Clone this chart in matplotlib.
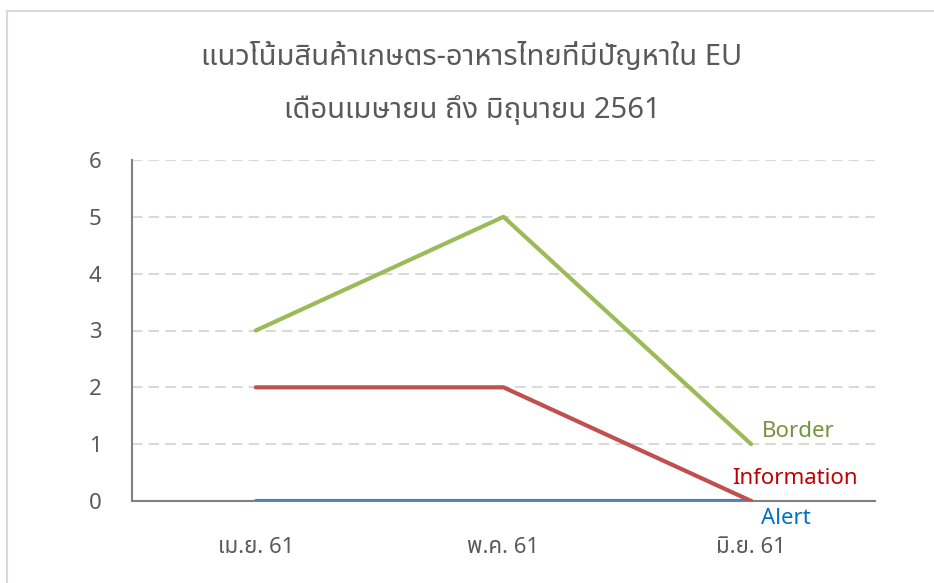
import matplotlib
matplotlib.use("Agg")
import matplotlib.pyplot as plt
from matplotlib.patches import Rectangle

plt.rcParams['font.family'] = ['Noto Sans Thai', 'DejaVu Sans']
plt.rcParams['font.weight'] = 'light'

# ข้อมูล
months = ['เม.ย. 61', 'พ.ค. 61', 'มิ.ย. 61']
border = [3, 5, 1]
information = [2, 2, 0]
alert = [0, 0, 0]
title = 'แนวโน้มสินค้าเกษตร-อาหารไทยที่มีปัญหาใน EU\nเดือนเมษายน ถึง มิถุนายน 2561'

fig = plt.figure(figsize=(9.34, 5.83), dpi=100)
ax = fig.add_axes([132 / 934, 1 - 501 / 583, 743 / 934, 341 / 583])

x = range(len(months))
ax.plot(x, alert, color='#4F81BD', lw=3, solid_capstyle='round', zorder=3)
ax.plot(x, information, color='#C0504D', lw=3, solid_capstyle='round', zorder=3)
ax.plot(x, border, color='#9BBB59', lw=3, solid_capstyle='round', zorder=3)

# ป้ายชื่อชุดข้อมูล
ax.text(2.044, 1.22, 'Border', color='#76923C', fontsize=16, va='center', ha='left')
ax.text(1.925, 0.40, 'Information', color='#C00000', fontsize=16, va='center', ha='left')
ax.text(2.04, -0.30, 'Alert', color='#0070C0', fontsize=16, va='center', ha='left')

ax.set_xlim(-0.5, 2.5)
ax.set_ylim(0, 6)
ax.set_xticks(list(x))
ax.set_xticklabels(months)
ax.set_yticks(range(7))
ax.tick_params(length=0, labelsize=16, labelcolor='#595959')
ax.tick_params(axis='y', pad=22)
ax.tick_params(axis='x', pad=26)
ax.grid(axis='y', color='#D9D9D9', ls=(0, (5, 3)), lw=1.5)
for s in ['top', 'right']:
    ax.spines[s].set_visible(False)
for s in ['left', 'bottom']:
    ax.spines[s].set_color('#808080')
    ax.spines[s].set_linewidth(1.5)
ax.set_axisbelow(True)

fig.text(472 / 934, 1 - 84 / 583, title, ha='center', va='center', fontsize=21,
         color='#595959', linespacing=2.0)

fig.patches.append(Rectangle((7 / 934, -0.1), 1.2, 1 - 11 / 583 + 0.1, transform=fig.transFigure,
                             fill=False, edgecolor='#D9D9D9', lw=1.5))

fig.savefig('out.png', dpi=100)
